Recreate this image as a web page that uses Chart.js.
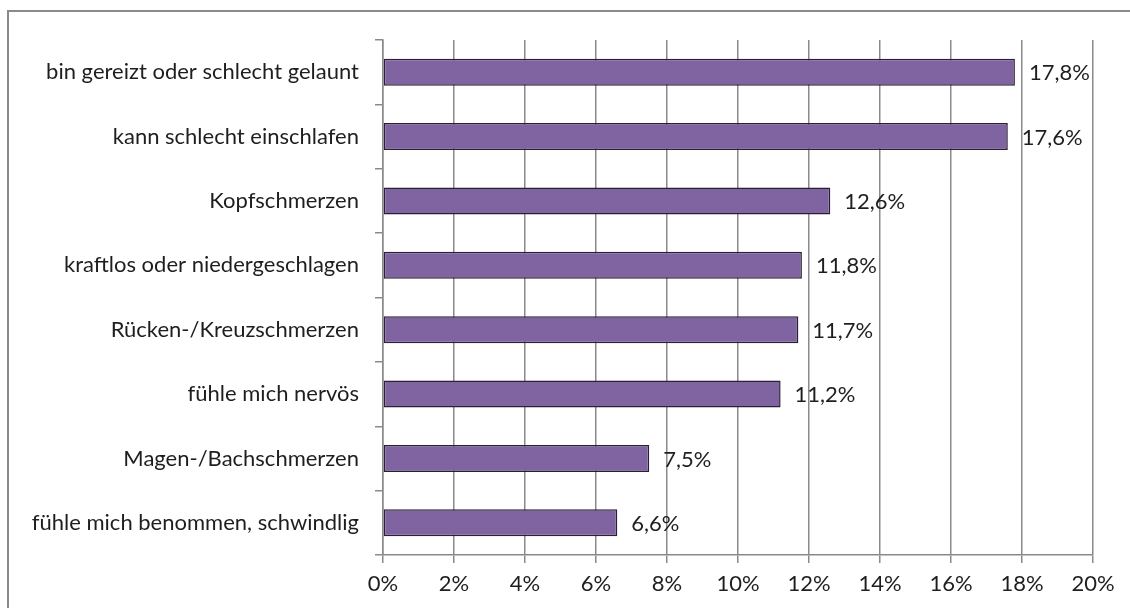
<!DOCTYPE html>
<html>
<head>
<meta charset="utf-8">
<script src="https://cdn.jsdelivr.net/npm/chart.js@4"></script>
<style>
    html, body { margin: 0; padding: 0; background: #fff; overflow: hidden; }
    #wrap { position: relative; width: 1130px; height: 608px; }
    #frame { position: absolute; left: 7px; top: 10px; width: 1200px; height: 700px; border: 2px solid #8a8a8a; box-sizing: border-box; }
    canvas { position: absolute; left: 0; top: 0; }
</style>
</head>
<body>
<div id="wrap">
    <div id="frame"></div>
    <canvas id="myChart" width="1130" height="608"></canvas>
</div>
<script>
const categories = [
    'bin gereizt oder schlecht gelaunt',
    'kann schlecht einschlafen',
    'Kopfschmerzen',
    'kraftlos oder niedergeschlagen',
    'Rücken-/Kreuzschmerzen',
    'fühle mich nervös',
    'Magen-/Bachschmerzen',
    'fühle mich benommen, schwindlig'
];
const values = [17.8, 17.6, 12.6, 11.8, 11.7, 11.2, 7.5, 6.6];
const tickValues = [0, 2, 4, 6, 8, 10, 12, 14, 16, 18, 20];

const FONT = 'Lato, "Open Sans", sans-serif';
const FONT_SIZE = 22;

/* etiquettes des valeurs a droite des barres */
const valueLabels = {
    id: 'valueLabels',
    afterDatasetsDraw(chart) {
        const ctx = chart.ctx;
        const meta = chart.getDatasetMeta(0);
        ctx.save();
        ctx.font = FONT_SIZE + 'px ' + FONT;
        ctx.fillStyle = '#1e1e1e';
        ctx.textBaseline = 'middle';
        ctx.textAlign = 'left';
        meta.data.forEach(function(bar, i) {
            const txt = values[i].toFixed(1).replace('.', ',') + '%';
            ctx.fillText(txt, bar.x + 14, bar.y + 1);
        });
        ctx.restore();
    }
};

const ctx = document.getElementById('myChart').getContext('2d');
const myChart = new Chart(ctx, {
    type: 'bar',
    data: {
        labels: categories,
        datasets: [{
            data: values,
            backgroundColor: '#8064A2',
            borderColor: '#2a2035',
            borderWidth: 1.5,
            borderSkipped: false,
            categoryPercentage: 1,
            barPercentage: 0.42
        }]
    },
    options: {
        indexAxis: 'y',
        responsive: false,
        animation: false,
        layout: {
            padding: { top: 40, right: 37, left: 0, bottom: 0 }
        },
        plugins: {
            legend: { display: false },
            tooltip: { enabled: false },
            title: { display: false }
        },
        scales: {
            x: {
                min: 0,
                max: 20,
                afterBuildTicks: function(axis) {
                    axis.ticks = tickValues.map(function(v) { return { value: v }; });
                },
                afterFit: function(axis) { axis.height = 53; },
                border: { display: true, color: '#8a8a8a', width: 1.5 },
                grid: {
                    color: '#8a8a8a',
                    lineWidth: 1.5,
                    drawTicks: true,
                    tickLength: 8
                },
                ticks: {
                    color: '#1e1e1e',
                    padding: 8,
                    font: { size: FONT_SIZE, family: FONT },
                    callback: function(v) { return v + '%'; }
                }
            },
            y: {
                afterFit: function(axis) { axis.width = 383; },
                border: { display: true, color: '#8a8a8a', width: 1.5 },
                grid: {
                    offset: true,
                    drawOnChartArea: false,
                    drawTicks: true,
                    tickLength: 8,
                    color: '#8a8a8a',
                    lineWidth: 1.5
                },
                ticks: {
                    color: '#1e1e1e',
                    padding: 16,
                    font: { size: FONT_SIZE, family: FONT }
                }
            }
        }
    },
    plugins: [valueLabels]
});
</script>
</body>
</html>
